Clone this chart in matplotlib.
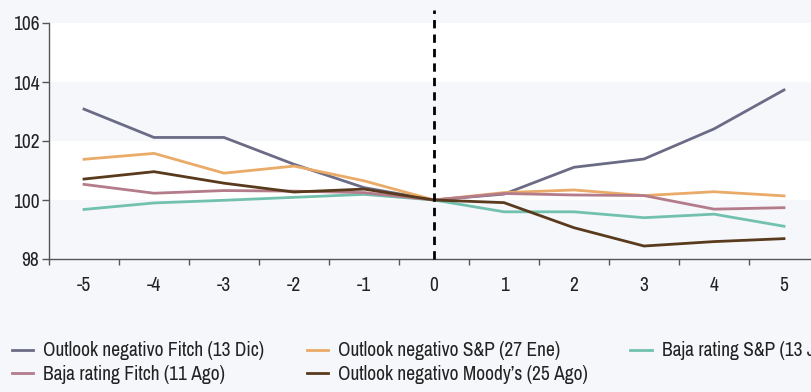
import matplotlib
matplotlib.use('Agg')
import matplotlib.pyplot as plt
from matplotlib import font_manager
import numpy as np

names = sorted({f.name for f in font_manager.fontManager.ttflist})
narrow = [n for n in names if 'Narrow' in n or 'Condensed' in n]
print(narrow)
fam = narrow[0] if narrow else 'DejaVu Sans'
if 'Liberation Sans Narrow' in names:
    fam = 'Liberation Sans Narrow'
plt.rcParams['font.family'] = [fam, 'DejaVu Sans']

days = [-5, -4, -3, -2, -1, 0, 1, 2, 3, 4, 5]
fitch_outlook = [103.08, 102.12, 102.12, 101.21, 100.42, 100.0, 100.2, 101.11, 101.39, 102.41, 103.73]
sp_outlook = [101.38, 101.58, 100.91, 101.15, 100.65, 100.0, 100.25, 100.34, 100.15, 100.28, 100.14]
sp_downgrade = [99.68, 99.9, 99.99, 100.09, 100.19, 100.0, 99.6, 99.6, 99.4, 99.52, 99.11]
fitch_downgrade = [100.53, 100.23, 100.32, 100.3, 100.25, 100.0, 100.22, 100.17, 100.15, 99.69, 99.74]
moodys_outlook = [100.71, 100.96, 100.57, 100.27, 100.37, 100.0, 99.91, 99.06, 98.44, 98.59, 98.69]

series = [
    ('Outlook negativo Fitch (13 Dic)', fitch_outlook, '#6b6b86'),
    ('Outlook negativo S&P (27 Ene)', sp_outlook, '#eaaa68'),
    ('Baja rating S&P (13 Jul)', sp_downgrade, '#72c1ae'),
    ('Baja rating Fitch (11 Ago)', fitch_downgrade, '#b47b8a'),
    ('Outlook negativo Moody\u2019s (25 Ago)', moodys_outlook, '#5a3a1c'),
]

bg = '#f5f7fb'
fig = plt.figure(figsize=(8.12, 3.92), dpi=100, facecolor=bg)
ax = fig.add_axes([49 / 812, 1 - 259 / 392, 770 / 812, 236 / 392])
ax.set_facecolor(bg)

x = np.arange(len(days))
# white bands
for lo in [100, 104]:
    ax.axhspan(lo, lo + 2, color='white', zorder=0, lw=0)

for label, vals, color in series:
    ax.plot(x, vals, color=color, lw=2, label=label, zorder=3)

ax.plot([5, 5], [98, 106.45], color='black', lw=2, ls=(0, (3, 2.2)), clip_on=False, zorder=4)

ax.set_xlim(-0.5, len(days) - 0.5)
ax.set_ylim(98, 106)
ax.set_yticks([98, 100, 102, 104, 106])
ax.set_xticks(x)
ax.set_xticklabels([str(d) for d in days])
ax.set_xticks(np.arange(-0.5, len(days)), minor=True)
ax.tick_params(axis='x', which='major', length=0, labelsize=14, pad=12, colors='#222222')
ax.tick_params(axis='x', which='minor', length=4, width=1, color='#555555')
ax.tick_params(axis='y', length=5, width=1, color='#555555', labelsize=14, pad=2, colors='#222222')
ax.tick_params(axis='y', color='#555555')
for s in ['top', 'right']:
    ax.spines[s].set_visible(False)
for s in ['left', 'bottom']:
    ax.spines[s].set_color('#555555')
    ax.spines[s].set_linewidth(1)

handles, labels = ax.get_legend_handles_labels()
order = [0, 3, 1, 4, 2]
leg = fig.legend([handles[i] for i in order], [labels[i] for i in order],
                 loc='lower left', bbox_to_anchor=(0.0, -0.01), ncol=3,
                 frameon=False, fontsize=14, handlelength=1.1, handletextpad=0.5,
                 columnspacing=2.2, labelspacing=0.25, borderaxespad=0.2)
for t in leg.get_texts():
    t.set_color('#222222')

fig.savefig('out.png', dpi=100, facecolor=bg)
